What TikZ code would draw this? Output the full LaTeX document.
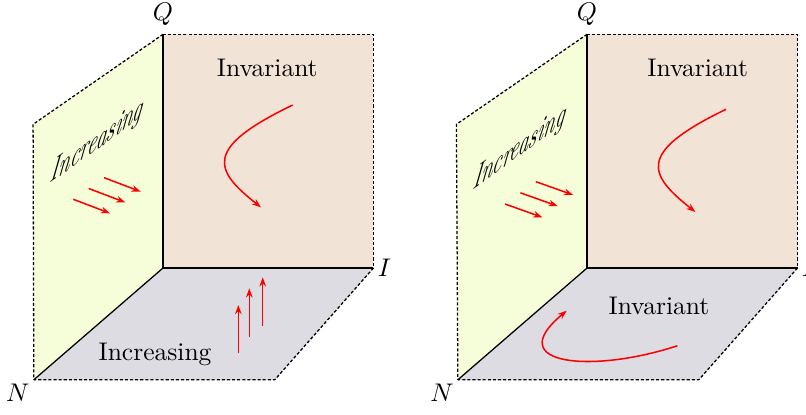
\documentclass[tikz,border=0pt]{standalone}
\usepackage{amsmath, amssymb}
\usepackage{xcolor}
\usetikzlibrary{arrows.meta}

\definecolor{backwall}{RGB}{242,227,215}
\definecolor{sidewall}{RGB}{245,254,217}
\definecolor{floorwall}{RGB}{222,220,227}

\tikzset{
  axisline/.style={black, line width=0.5pt},
  edgeline/.style={black, line width=0.5pt, dash pattern=on 1.2pt off 0.8pt},
  flow/.style={red, semithick, -{Stealth[length=3.6pt, width=2.6pt]}},
  slanted/.style={cm={0.81,0.59,0.22,1.33,(0,0)}, font=\itshape}
}

\begin{document}
\begin{tikzpicture}

\useasboundingbox (-2.246,-2.012) rectangle (8.86,3.693);

% --- left ---
\begin{scope}
\coordinate (O) at (0,0);
\coordinate (Q) at (0,3.22);
\coordinate (I) at (2.9,0);
\coordinate (N) at (-1.78,-1.54);
\coordinate (T) at (-1.79,1.98);
\coordinate (F) at (1.54,-1.54);
\coordinate (R) at (2.9,3.22);

\fill[backwall] (O) -- (Q) -- (R) -- (I) -- cycle;
\fill[sidewall] (O) -- (Q) -- (T) -- (N) -- cycle;
\fill[floorwall] (O) -- (I) -- (F) -- (N) -- cycle;

\draw[edgeline] (Q) -- (R) -- (I);
\draw[edgeline] (Q) -- (T) -- (N);
\draw[edgeline] (I) -- (F) -- (N);
\draw[axisline] (Q) -- (O) -- (I);
\draw[axisline] (O) -- (N);

\node[above] (lq) at (Q) {$Q$};
\node[right, inner sep=1.5pt] (li) at (I) {$I$};
\node[below left, inner sep=1.5pt] (ln) at (N) {$N$};

\node (inv) at (1.437,2.752) {Invariant};
\node[slanted] (incs) at (-0.91,1.73) {Increasing};
\node (incf) at (-0.11,-1.196) {Increasing};

\draw[flow] (1.787,2.246) .. controls (0.55,1.65) and (0.7,1.35) .. (1.35,0.836);

\foreach \i in {0,1,2}
  \draw[flow, shift={(\i*0.212,\i*0.149)}] (-1.236,0.947) -- ++(0.506,-0.193);

\draw[flow] (1.038,-1.175) -- (1.038,-0.51);
\draw[flow] (1.189,-0.947) -- (1.189,-0.28);
\draw[flow] (1.374,-0.795) -- (1.374,-0.128);
\end{scope}

% --- right ---
\begin{scope}[xshift=5.843cm]
\coordinate (O) at (0,0);
\coordinate (Q) at (0,3.22);
\coordinate (I) at (2.9,0);
\coordinate (N) at (-1.78,-1.54);
\coordinate (T) at (-1.8,1.98);
\coordinate (F) at (1.54,-1.54);
\coordinate (R) at (2.9,3.22);

\fill[backwall] (O) -- (Q) -- (R) -- (I) -- cycle;
\fill[sidewall] (O) -- (Q) -- (T) -- (N) -- cycle;
\fill[floorwall] (O) -- (I) -- (F) -- (N) -- cycle;

\draw[edgeline] (Q) -- (R) -- (I);
\draw[edgeline] (Q) -- (T) -- (N);
\draw[edgeline] (I) -- (F) -- (N);
\draw[axisline] (Q) -- (O) -- (I);
\draw[axisline] (O) -- (N);

\node[above] (lq2) at (Q) {$Q$};
\node[right, inner sep=1.5pt] (li2) at (I) {$I$};
\node[below left, inner sep=1.5pt] (ln2) at (N) {$N$};

\node (inv2) at (1.525,2.752) {Invariant};
\node[slanted] (incs2) at (-0.934,1.637) {Increasing};
\node (invf2) at (0.99,-0.521) {Invariant};

\draw[flow] (1.915,2.187) .. controls (0.68,1.59) and (0.84,1.29) .. (1.493,0.772);
\draw[flow] (1.245,-1.071) .. controls (0.1,-1.45) and (-1.2,-1.35) .. (-0.28,-0.588);

\foreach \i in {0,1,2}
  \draw[flow, shift={(\i*0.212,\i*0.154)}] (-1.13,0.882) -- ++(0.514,-0.183);
\end{scope}

\end{tikzpicture}
\end{document}
